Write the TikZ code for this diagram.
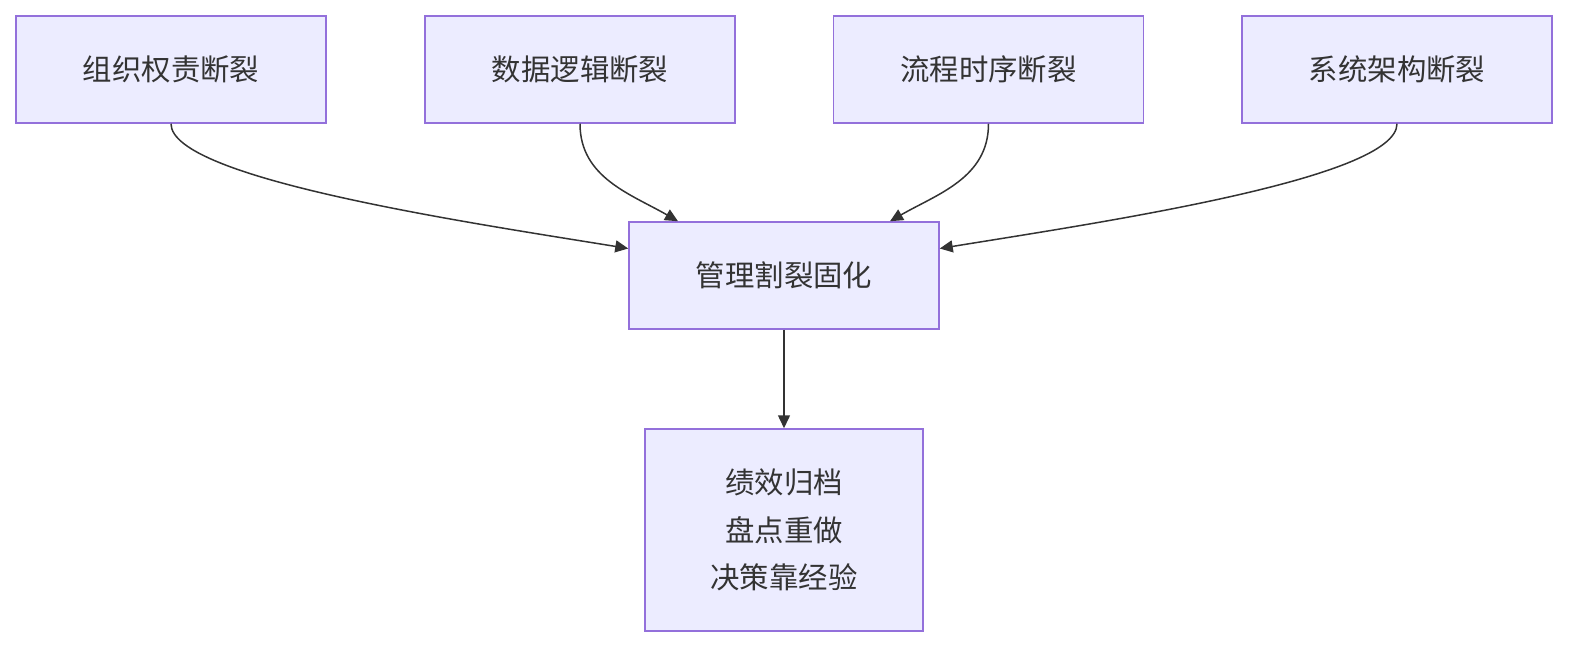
\documentclass[tikz,border=0pt]{standalone}
\usepackage{fontspec}
\setmainfont{Noto Sans CJK SC}
\usetikzlibrary{arrows.meta}
\definecolor{boxfill}{HTML}{ECECFF}
\definecolor{boxline}{HTML}{9370DB}
\definecolor{edgeline}{HTML}{333333}

\begin{document}
\begin{tikzpicture}[x=1bp,y=1bp,
    box/.style={draw=boxline,fill=boxfill,line width=1.5bp,minimum width=310bp,minimum height=107bp,
                font=\fontsize{29.5}{48}\selectfont,text=edgeline,align=center,inner sep=0pt},
    link/.style={draw=edgeline,line width=1.5bp,-{Triangle[length=13bp,width=12bp]}}]
  \useasboundingbox (0,0) rectangle (1580,-652);

  \node[box] (org)  at (171,-69.5)  {组织权责断裂};
  \node[box] (data) at (580,-69.5)  {数据逻辑断裂};
  \node[box] (flow) at (988.5,-69.5) {流程时序断裂};
  \node[box] (sys)  at (1397,-69.5) {系统架构断裂};
  \node[box] (mgmt) at (784,-275.5) {管理割裂固化};
  \node[box,minimum width=278bp,minimum height=202bp] (res) at (784,-530)
        {绩效归档\\盘点重做\\决策靠经验};

  \draw[link] (org.south)  .. controls +(0,-55) and +(-160,26) .. ([yshift=27bp]mgmt.west);
  \draw[link] (data.south) to[out=-90,in=150] ([xshift=-106bp]mgmt.north);
  \draw[link] (flow.south) to[out=-90,in=30]  ([xshift=106bp]mgmt.north);
  \draw[link] (sys.south)  .. controls +(0,-55) and +(160,26) .. ([yshift=27bp]mgmt.east);
  \draw[link] (mgmt) -- (res);
\end{tikzpicture}
\end{document}
